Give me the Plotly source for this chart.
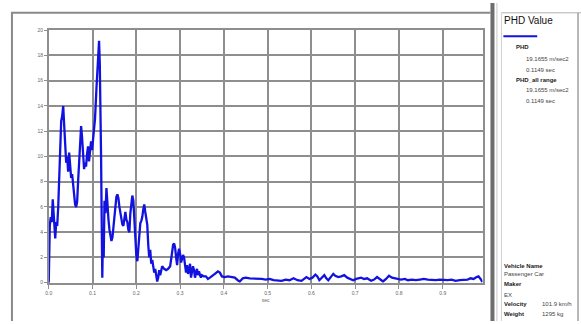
import plotly.graph_objects as go

# Crash pulse: time (sec) vs. acceleration (m/sec2)
time_s = [
    0.0, 0.0011, 0.0023, 0.0045, 0.0068, 0.0091, 0.0114, 0.0136, 0.0148, 0.0170,
    0.0193, 0.0216, 0.0239, 0.0261, 0.0284, 0.0307, 0.0330, 0.0352, 0.0375, 0.0398,
    0.0420, 0.0443, 0.0466, 0.0489, 0.0511, 0.0534, 0.0557, 0.0580, 0.0602, 0.0625,
    0.0648, 0.0670, 0.0693, 0.0716, 0.0739, 0.0761, 0.0784, 0.0807, 0.0830, 0.0852,
    0.0875, 0.0898, 0.0920, 0.0943, 0.0966, 0.0989, 0.1023, 0.1057, 0.1091, 0.1125,
    0.1149, 0.1166, 0.1182, 0.1195, 0.1209, 0.1223, 0.1239, 0.1255, 0.1273, 0.1295,
    0.1318, 0.1341, 0.1364, 0.1386, 0.1409, 0.1432, 0.1455, 0.1477, 0.1500, 0.1523,
    0.1545, 0.1568, 0.1591, 0.1614, 0.1636, 0.1659, 0.1682, 0.1705, 0.1727, 0.1750,
    0.1773, 0.1795, 0.1818, 0.1841, 0.1864, 0.1886, 0.1909, 0.1932, 0.1955, 0.1977,
    0.2000, 0.2023, 0.2045, 0.2068, 0.2091, 0.2114, 0.2136, 0.2159, 0.2182, 0.2205,
    0.2227, 0.2250, 0.2273, 0.2295, 0.2318, 0.2341, 0.2364, 0.2386, 0.2409, 0.2432,
    0.2455, 0.2477, 0.2500, 0.2523, 0.2545, 0.2568, 0.2591, 0.2636, 0.2682, 0.2727,
    0.2773, 0.2818, 0.2841, 0.2864, 0.2886, 0.2909, 0.2932, 0.2955, 0.2977, 0.3000,
    0.3023, 0.3045, 0.3068, 0.3091, 0.3114, 0.3136, 0.3159, 0.3182, 0.3205, 0.3227,
    0.3250, 0.3273, 0.3295, 0.3318, 0.3341, 0.3364, 0.3386, 0.3409, 0.3432, 0.3455,
    0.3477, 0.3500, 0.3545, 0.3591, 0.3636, 0.3682, 0.3727, 0.3795, 0.3864, 0.3909,
    0.3955, 0.4023, 0.4091, 0.4182, 0.4250, 0.4318, 0.4364, 0.4432, 0.4500, 0.4591,
    0.4682, 0.4773, 0.4864, 0.4955, 0.5045, 0.5136, 0.5227, 0.5318, 0.5409, 0.5500,
    0.5591, 0.5682, 0.5773, 0.5841, 0.5886, 0.5955, 0.6023, 0.6091, 0.6136, 0.6182,
    0.6250, 0.6295, 0.6341, 0.6386, 0.6455, 0.6500, 0.6545, 0.6614, 0.6682, 0.6750,
    0.6818, 0.6886, 0.6955, 0.7023, 0.7091, 0.7136, 0.7205, 0.7273, 0.7364, 0.7432,
    0.7500, 0.7568, 0.7636, 0.7705, 0.7773, 0.7841, 0.7909, 0.7977, 0.8045, 0.8136,
    0.8205, 0.8295, 0.8386, 0.8477, 0.8568, 0.8659, 0.8750, 0.8841, 0.8932, 0.9023,
    0.9114, 0.9205, 0.9295, 0.9386, 0.9477, 0.9568, 0.9636, 0.9705, 0.9773, 0.9818,
    0.9864, 0.9909,
]
accel = [
    0.0, 2.5, 4.5, 5.2, 4.8, 6.6, 5.0, 3.8, 3.5, 4.8,
    4.5, 6.0, 8.5, 12.0, 12.8, 13.2, 14.0, 12.5, 10.5, 9.5,
    10.0, 8.8, 10.3, 8.8, 8.3, 8.6, 7.8, 7.5, 6.2, 6.0,
    6.4, 8.0, 9.5, 11.0, 12.4, 11.5, 10.0, 9.0, 9.5, 9.2,
    10.2, 10.8, 9.6, 10.3, 11.2, 10.5, 11.5, 13.0, 15.5, 18.0,
    19.1655, 17.3, 14.5, 10.0, 5.0, 0.4, 4.0, 2.0, 6.5, 5.5,
    7.5, 6.0, 5.0, 4.2, 3.5, 3.3, 3.6, 4.5, 5.5, 6.2,
    6.8, 7.0, 6.7, 6.0, 5.5, 5.0, 4.6, 4.5, 5.2, 5.6,
    5.0, 4.8, 4.2, 4.0, 5.5, 6.5, 6.9, 6.5, 5.0, 3.5,
    2.2, 1.7, 2.5, 3.8, 4.7, 4.9, 5.2, 5.8, 6.2, 5.6,
    5.1, 4.6, 3.0, 2.0, 2.6, 1.5, 1.8, 1.2, 0.8, 1.1,
    0.5, 0.1, 0.4, 1.0, 0.6, 1.1, 1.3, 1.1, 1.0, 1.1,
    1.3, 2.4, 3.0, 3.1, 2.8, 2.0, 1.4, 2.3, 2.7, 2.3,
    1.6, 1.9, 2.2, 2.0, 1.2, 0.8, 1.4, 0.7, 1.0, 1.5,
    0.4, 0.9, 1.3, 1.0, 0.4, 0.8, 1.1, 0.6, 0.9, 0.6,
    0.4, 0.6, 0.5, 0.5, 0.3, 0.4, 0.5, 0.7, 0.9, 0.8,
    0.5, 0.45, 0.5, 0.45, 0.4, 0.2, 0.1, 0.35, 0.4, 0.35,
    0.35, 0.3, 0.3, 0.25, 0.3, 0.2, 0.2, 0.15, 0.25, 0.2,
    0.35, 0.2, 0.15, 0.3, 0.45, 0.3, 0.4, 0.65, 0.5, 0.2,
    0.45, 0.6, 0.35, 0.2, 0.5, 0.7, 0.55, 0.45, 0.5, 0.6,
    0.4, 0.3, 0.2, 0.3, 0.35, 0.4, 0.3, 0.35, 0.15, 0.25,
    0.45, 0.3, 0.1, 0.3, 0.55, 0.4, 0.35, 0.3, 0.25, 0.3,
    0.2, 0.25, 0.2, 0.25, 0.3, 0.25, 0.2, 0.2, 0.25, 0.2,
    0.2, 0.25, 0.15, 0.2, 0.25, 0.25, 0.35, 0.3, 0.45, 0.5,
    0.3, 0.05,
]

x_ticks = [0.0, 0.1, 0.2, 0.3, 0.4, 0.5, 0.6, 0.7, 0.8, 0.9]
x_tick_labels = ["0.0", "0.1", "0.2", "0.3", "0.4", "0.5", "0.6", "0.7", "0.8", "0.9"]
y_ticks = [0, 2, 4, 6, 8, 10, 12, 14, 16, 18, 20]

peak_value = "19.1655 m/sec2"
peak_time = "0.1149 sec"
vehicle_name = "Passenger Car"
maker = "EX"
velocity = "101.9 km/h"
weight = "1295 kg"

W, H = 581, 324
FONT = "Liberation Sans, Arial, sans-serif"
GRID = "#8e8e8e"


def fx(px):
    return px / W


def fy(py):
    return 1 - py / H


fig = go.Figure()
fig.add_trace(go.Scatter(
    x=time_s, y=accel, mode="lines",
    line=dict(color="#1212e0", width=2.3),
    showlegend=False, hoverinfo="skip",
))

fig.update_layout(
    width=W, height=H,
    margin=dict(l=0, r=0, t=0, b=0),
    paper_bgcolor="white", plot_bgcolor="white",
    font=dict(family=FONT, color="#333"),
    xaxis=dict(
        domain=[fx(46), fx(482)], range=[0, 0.9909],
        tickmode="array", tickvals=x_ticks, ticktext=x_tick_labels,
        tickfont=dict(size=5, color="#666"),
        showgrid=True, gridcolor=GRID, gridwidth=1.6,
        ticks="outside", ticklen=4, tickcolor=GRID,
        showline=True, linecolor=GRID, linewidth=1.6, mirror=True,
        zeroline=False,
        title=dict(text="sec", font=dict(size=5, color="#666"), standoff=4),
    ),
    yaxis=dict(
        domain=[fy(285), fy(27.7)], range=[0, 20],
        tickmode="array", tickvals=y_ticks,
        tickfont=dict(size=5, color="#666"),
        showgrid=True, gridcolor=GRID, gridwidth=1.6,
        ticks="outside", ticklen=3, tickcolor=GRID,
        showline=True, linecolor=GRID, linewidth=1.6, mirror=True,
        zeroline=False,
    ),
)

# Window frame around the chart and the info panel
frame = [
    dict(x0=8, y0=10, x1=490, y1=10, color="#8a8a8a", width=2),
    dict(x0=9, y0=10, x1=9, y1=324, color="#8a8a8a", width=2),
    dict(x0=492, y0=0, x1=492, y1=324, color="#6e6e6e", width=4),
    dict(x0=496.5, y0=0, x1=496.5, y1=324, color="#c8c8c8", width=1),
    dict(x0=501, y0=10, x1=581, y1=10, color="#b0b0b0", width=1),
    dict(x0=501, y0=10, x1=501, y1=324, color="#d0d0d0", width=1),
    dict(x0=578, y0=10, x1=578, y1=324, color="#a0a0a0", width=1.5),
]
for s in frame:
    fig.add_shape(type="line", xref="paper", yref="paper",
                  x0=fx(s["x0"]), y0=fy(s["y0"]), x1=fx(s["x1"]), y1=fy(s["y1"]),
                  line=dict(color=s["color"], width=s["width"]))

# Legend swatch for the PHD curve
fig.add_shape(type="line", xref="paper", yref="paper",
              x0=fx(503), y0=fy(34), x1=fx(537), y1=fy(34),
              line=dict(color="#1212e0", width=2))


def label(px, py, text, size=6, bold=False, color="#444"):
    fig.add_annotation(
        xref="paper", yref="paper", x=fx(px), y=fy(py),
        xanchor="left", yanchor="middle", showarrow=False,
        text=f"<b>{text}</b>" if bold else text,
        font=dict(family=FONT, size=size, color=color),
    )


label(502, 18, "PHD Value", size=10, color="#111")
label(514, 45, "PHD", bold=True, color="#222")
label(524, 57, peak_value)
label(524, 68, peak_time)
label(514, 78, "PHD_all range", bold=True, color="#222")
label(524, 89, peak_value)
label(524, 100, peak_time)

label(502, 268, "Vehicle Name", bold=True, color="#222")
label(502, 276, vehicle_name)
label(502, 286, "Maker", bold=True, color="#222")
label(502, 297, maker)
label(502, 307, "Velocity", bold=True, color="#222")
label(540, 307, velocity)
label(502, 317, "Weight", bold=True, color="#222")
label(540, 317, weight)

fig.write_html("out.html")
